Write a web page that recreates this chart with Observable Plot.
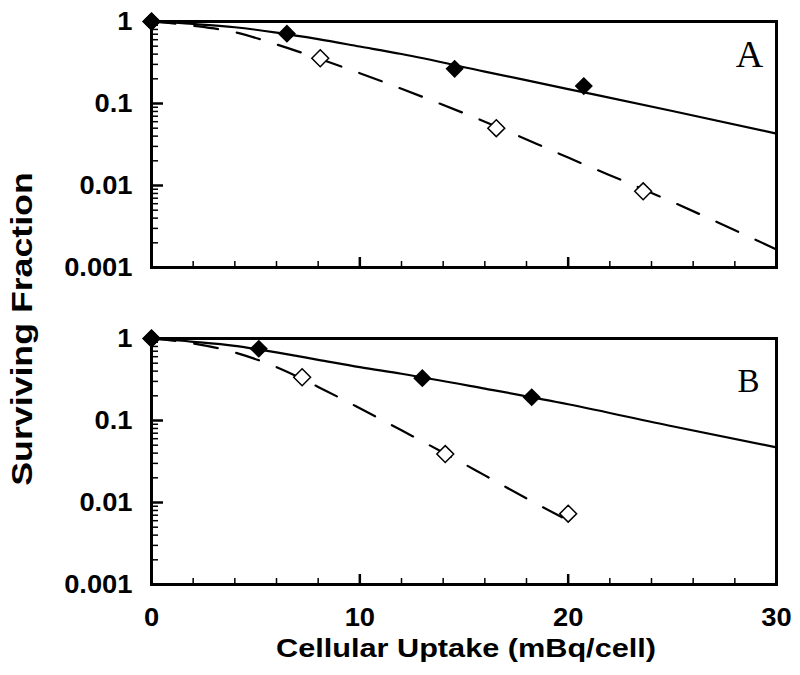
<!DOCTYPE html>
<html><head><meta charset="utf-8">
<script src="https://cdn.jsdelivr.net/npm/d3@7"></script>
<script src="https://cdn.jsdelivr.net/npm/@observablehq/plot@0.6"></script>
<style>
html,body{margin:0;padding:0;background:#fff;}
#chart{width:800px;height:675px;}
</style></head><body><div id="chart"></div>
<script>
// ---- data ----
const panels = ["A", "B"];
const xTicks = [0, 10, 20, 30];
const xTickLabels = ["0", "10", "20", "30"];
const xMajorInner = [10, 20];
const xMinorTicks = [2, 4, 6, 8, 12, 14, 16, 18, 22, 24, 26, 28];
const yTicks = [1, 0.1, 0.01, 0.001];
const yTickLabels = ["1", "0.1", "0.01", "0.001"];
const yMinorTicks = [0.002,0.003,0.004,0.005,0.006,0.007,0.008,0.009,
                     0.02,0.03,0.04,0.05,0.06,0.07,0.08,0.09,
                     0.2,0.3,0.4,0.5,0.6,0.7,0.8,0.9];

// Panel A measured points
const filledA_x = [0, 6.5, 14.55, 20.75];
const filledA_y = [1, 0.71, 0.265, 0.163];
const openA_x = [0, 8.1, 16.55, 23.6];
const openA_y = [1, 0.356, 0.050, 0.0085];
// Panel A fitted curves
const solidA_x = [0, 2, 4, 6, 8, 10, 12, 16, 20, 25, 30];
const solidA_y = [1, 0.933, 0.851, 0.733, 0.61, 0.495, 0.401, 0.245, 0.15, 0.081, 0.043];
const dashA_x = [0, 2, 4, 6, 8, 10, 12, 16, 20, 25, 30];
const dashA_y = [1, 0.89, 0.74, 0.525, 0.355, 0.234, 0.151, 0.060, 0.0219, 0.0063, 0.00166];

// Panel B measured points
const filledB_x = [0, 5.15, 13.0, 18.25];
const filledB_y = [1, 0.75, 0.328, 0.192];
const openB_x = [0, 7.23, 14.1, 20.0];
const openB_y = [1, 0.337, 0.039, 0.0073];
// Panel B fitted curves
const solidB_x = [0, 2, 4, 6, 8, 10, 12, 16, 20, 25, 30];
const solidB_y = [1, 0.912, 0.813, 0.676, 0.55, 0.447, 0.372, 0.245, 0.158, 0.085, 0.047];
const dashB_x = [0, 2, 4, 6, 8, 10, 12, 14, 16, 18, 19.7];
const dashB_y = [1, 0.871, 0.676, 0.447, 0.257, 0.141, 0.0759, 0.0407, 0.0214, 0.0112, 0.0066];

const xTitle = "Cellular Uptake (mBq/cell)";
const yTitle = "Surviving Fraction";

// ---- build tables ----
const rows = (panel, xs, ys) => xs.map((x, i) => ({panel, x, y: ys[i]}));
const filled = [...rows("A", filledA_x, filledA_y), ...rows("B", filledB_x, filledB_y)];
const open = [...rows("A", openA_x, openA_y), ...rows("B", openB_x, openB_y)];
const solid = [...rows("A", solidA_x, solidA_y), ...rows("B", solidB_x, solidB_y)];
const dashed = [...rows("A", dashA_x, dashA_y), ...rows("B", dashB_x, dashB_y)];

// ---- layout ----
const W = 800, H = 675;
const mL = 151, mR = 24, mT = 21, mB = 91;
const pad = 0.224;
const innerW = W - mL - mR;
const BW = (H - mT - mB) * (1 - pad) / (2 - pad);
const sans = "'Liberation Sans', Arial, Helvetica, sans-serif";
const serif = "'Liberation Serif', 'Times New Roman', serif";

const chart = Plot.plot({
  width: W, height: H,
  marginLeft: mL, marginRight: mR, marginTop: mT, marginBottom: mB,
  x: {domain: [0, 30]},
  y: {type: "log", domain: [0.001, 1]},
  fy: {domain: panels, paddingInner: pad, paddingOuter: 0, round: false, axis: null},
  style: {fontFamily: sans, color: "black", background: "white"},
  marks: [
    Plot.tickY(yMinorTicks, {y: d => d, insetRight: innerW - 7, strokeWidth: 1.5}),
    Plot.tickY(yTicks, {y: d => d, insetRight: innerW - 12, strokeWidth: 2.5}),
    Plot.tickX(xMinorTicks, {x: d => d, insetTop: BW - 6, strokeWidth: 1.5}),
    Plot.tickX(xMajorInner, {x: d => d, insetTop: BW - 10, strokeWidth: 2.5}),
    Plot.line(solid, {x: "x", y: "y", fy: "panel", stroke: "black", strokeWidth: 2.2, curve: "monotone-x"}),
    Plot.line(dashed, {x: "x", y: "y", fy: "panel", stroke: "black", strokeWidth: 2.2, strokeDasharray: "24,19", curve: "monotone-x"}),
    Plot.frame({stroke: "black", strokeWidth: 3}),
    Plot.dot(open, {x: "x", y: "y", fy: "panel", symbol: "diamond2", r: 7.6, fill: "white", stroke: "black", strokeWidth: 1.5}),
    Plot.dot(filled, {x: "x", y: "y", fy: "panel", symbol: "diamond2", r: 8.2, fill: "black", stroke: "none"}),
    Plot.axisY({ticks: yTicks, tickFormat: d => yTickLabels[yTicks.indexOf(d)], tickSize: 0, tickPadding: 19,
                fontSize: 26, fontWeight: "bold", label: null}),
    Plot.axisX({ticks: xTicks, tickFormat: d => xTickLabels[xTicks.indexOf(d)], tickSize: 0, tickPadding: 23,
                fontSize: 26, fontWeight: "bold", label: null}),
    Plot.text(["A"], {fy: d => d, text: d => d, frameAnchor: "top-right", dx: -27, dy: 33,
                      textAnchor: "middle", lineAnchor: "middle", fontFamily: serif, fontSize: 38}),
    Plot.text(["B"], {fy: d => d, text: d => d, frameAnchor: "top-right", dx: -28, dy: 43,
                      textAnchor: "middle", lineAnchor: "middle", fontFamily: serif, fontSize: 33})
  ]
});

document.getElementById("chart").append(chart);

// widen the sans tick labels a little, as in the reference typeface
chart.querySelectorAll('g[aria-label="y-axis tick label"] text, g[aria-label="x-axis tick label"] text').forEach(t => {
  const L = t.getComputedTextLength();
  t.setAttribute("textLength", L * 1.05);
  t.setAttribute("lengthAdjust", "spacingAndGlyphs");
});

// axis titles
const svg = d3.select(chart);
svg.append("text")
  .attr("transform", "translate(32,329) rotate(-90) scale(1.19,1)")
  .attr("text-anchor", "middle")
  .attr("font-family", sans).attr("font-weight", "bold").attr("font-size", 30)
  .attr("fill", "black")
  .text(yTitle);
svg.append("text")
  .attr("transform", "translate(466,657) scale(1.18,1)")
  .attr("text-anchor", "middle")
  .attr("font-family", sans).attr("font-weight", "bold").attr("font-size", 26)
  .attr("fill", "black")
  .text(xTitle);
</script></body></html>
